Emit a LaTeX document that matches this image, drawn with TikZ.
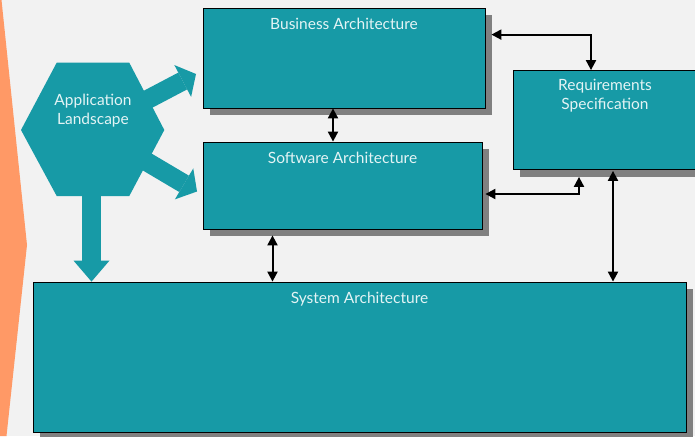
\documentclass[tikz,border=0pt]{standalone}
\usepackage{fontspec}
\setmainfont{Lato}
\usetikzlibrary{arrows.meta,calc,shadows,positioning}
\definecolor{archteal}{RGB}{23,154,166}
\definecolor{bggray}{RGB}{242,242,242}
\definecolor{shadowgray}{RGB}{128,128,128}
\definecolor{accentorange}{RGB}{255,153,102}
\definecolor{labelwhite}{RGB}{228,244,245}

\begin{document}
\begin{tikzpicture}[
    x=1pt, y=-1pt,
    archbox/.style={rectangle, draw=black, line width=0.8pt, fill=archteal, inner sep=0pt,
                    drop shadow={shadow xshift=7pt, shadow yshift=-7pt, fill=shadowgray, opacity=1}},
    boxtext/.style={font=\fontsize{15.5}{19}\selectfont, text=labelwhite, align=center},
    link/.style={line width=2pt, {Triangle[width=10pt,length=10pt]}-{Triangle[width=10pt,length=10pt]}},
    fatarrow/.style={draw=archteal, line width=19pt, -{Triangle[width=36pt,length=#1,line width=0pt]}},
    fatarrow/.default=15pt
]
\useasboundingbox (0,0) rectangle (695,436);
\clip (0,0) rectangle (695,436);

% page background and orange edge
\fill[bggray] (0,0) rectangle (695,436);
\fill[accentorange] (0,0) -- (1.5,0) -- (27,245) -- (6.5,436) -- (0,436) -- cycle;

% architecture boxes
\node[archbox, minimum width=282pt, minimum height=100pt,
      label={[boxtext, anchor=north, yshift=-7pt]north:Business Architecture}] (bus) at (344,58) {};
\node[archbox, minimum width=279pt, minimum height=87pt,
      label={[boxtext, anchor=north, yshift=-7pt]north:Software Architecture}] (soft) at (342.5,185.5) {};
\node[archbox, minimum width=184pt, minimum height=99pt,
      label={[boxtext, anchor=north, yshift=-6pt]north:Requirements\\Specification}] (req) at (605,120) {};
\node[archbox, minimum width=653pt, minimum height=150pt,
      label={[boxtext, anchor=north, yshift=-7pt]north:System Architecture}] (sys) at (359.5,357) {};

% links between the boxes
\coordinate (busout) at ($(bus.north east)+(6,27)$);
\coordinate (reqtop) at ($(req.north)+(-14,0)$);
\coordinate (softout) at ($(soft.east)+(3,8.5)$);
\coordinate (reqlow) at ($(req.south)+(-26,7)$);
\coordinate (reqdown) at ($(req.south)+(8,1)$);
\coordinate (busdown) at ($(bus.south)+(-11,0)$);
\coordinate (softdown) at ($(soft.south)+(-70,6)$);
\draw[link] (busout) -| (reqtop);
\draw[link] (softout) -| (reqlow);
\draw[link] (reqdown) -- (reqdown |- sys.north);
\draw[link] (busdown) -- (busdown |- soft.north);
\draw[link] (softdown) -- (softdown |- sys.north);

% application landscape hexagon
\coordinate (hexc) at (91.5,129);
\coordinate (uptip) at (196,74);
\coordinate (lowtip) at (197,191.5);
\draw[fatarrow] (hexc) -- (uptip);
\draw[fatarrow] (hexc) -- (lowtip);
\draw[fatarrow=21pt] (hexc) -- (hexc |- sys.north);
\fill[archteal] (21,130) -- (56.7,62.7) -- (129.3,62.7) -- (164.3,130)
    -- (129.3,196) -- (56.7,196) -- cycle;
\node[boxtext] (land) at (93,111) {Application\\Landscape};

\end{tikzpicture}
\end{document}
